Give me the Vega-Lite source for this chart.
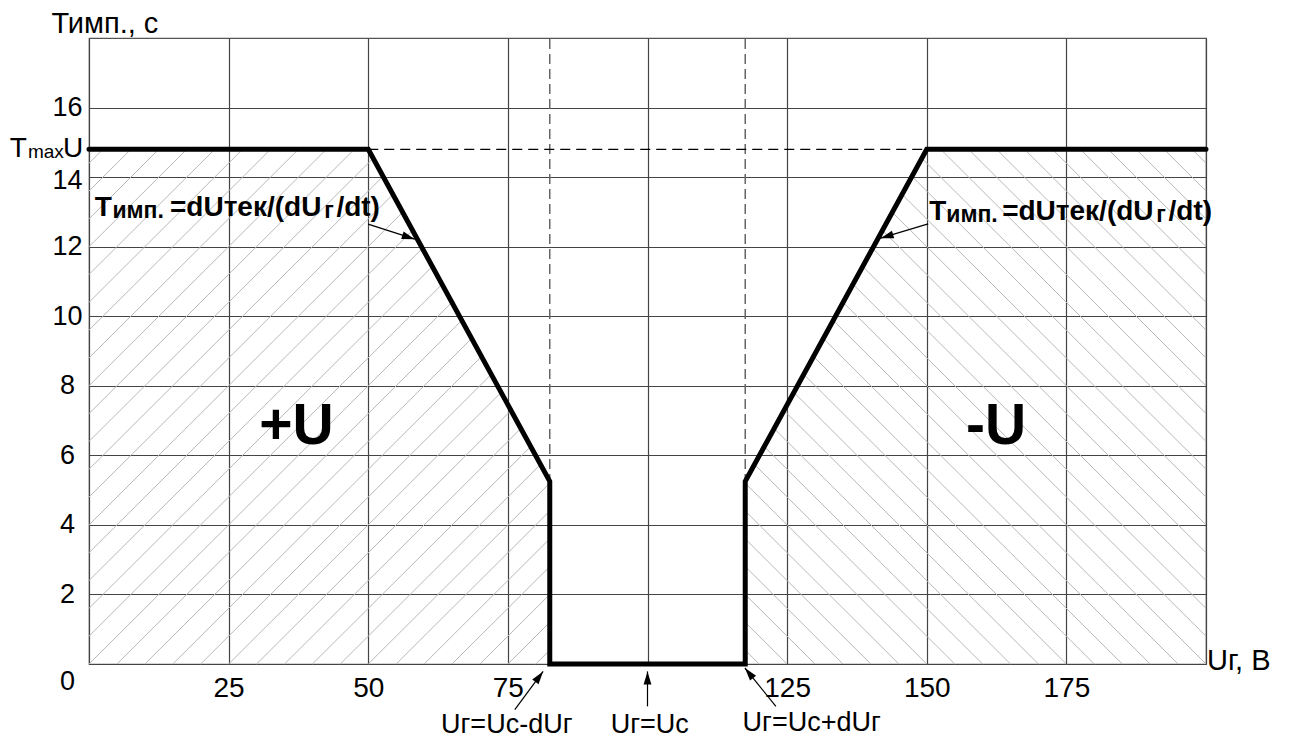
{
  "$schema": "https://vega.github.io/schema/vega-lite/v6.json",
  "autosize": {"type": "none"},
  "padding": {"left": 89, "top": 38, "right": 85, "bottom": 78},
  "width": 1117,
  "height": 626,
  "background": "white",
  "config": {
    "view": {"stroke": "#555", "strokeWidth": 1.2},
    "text": {"font": "Liberation Sans", "color": "#000"}
  },
  "datasets": {
    "curve": [
      {"i": 0, "x": 0, "y": 14.8}, {"i": 1, "x": 50, "y": 14.8}, {"i": 2, "x": 82.5, "y": 5.25}, {"i": 3, "x": 82.5, "y": 0},
      {"i": 4, "x": 117.5, "y": 0}, {"i": 5, "x": 117.5, "y": 5.25}, {"i": 6, "x": 150, "y": 14.8}, {"i": 7, "x": 200, "y": 14.8}
    ],
    "hatch": [
      {"x": 0, "y": 14.4, "x2": 2.5, "y2": 14.8}, {"x": 0, "y": 13.6, "x2": 7.5, "y2": 14.8}, {"x": 0, "y": 12.8, "x2": 12.5, "y2": 14.8},
      {"x": 0, "y": 12.0, "x2": 17.5, "y2": 14.8}, {"x": 0, "y": 11.2, "x2": 22.5, "y2": 14.8}, {"x": 0, "y": 10.4, "x2": 27.5, "y2": 14.8},
      {"x": 0, "y": 9.6, "x2": 32.5, "y2": 14.8}, {"x": 0, "y": 8.8, "x2": 37.5, "y2": 14.8}, {"x": 0, "y": 8.0, "x2": 42.5, "y2": 14.8},
      {"x": 0, "y": 7.2, "x2": 47.5, "y2": 14.8}, {"x": 0, "y": 6.4, "x2": 50.88, "y2": 14.54}, {"x": 0, "y": 5.6, "x2": 52.64, "y2": 14.02},
      {"x": 0, "y": 4.8, "x2": 54.41, "y2": 13.5}, {"x": 0, "y": 4.0, "x2": 56.17, "y2": 12.99}, {"x": 0, "y": 3.2, "x2": 57.93, "y2": 12.47},
      {"x": 0, "y": 2.4, "x2": 59.7, "y2": 11.95}, {"x": 0, "y": 1.6, "x2": 61.46, "y2": 11.43}, {"x": 0, "y": 0.8, "x2": 63.22, "y2": 10.92},
      {"x": 0, "y": 0, "x2": 64.98, "y2": 10.4}, {"x": 5, "y": 0, "x2": 66.75, "y2": 9.88}, {"x": 10, "y": 0, "x2": 68.51, "y2": 9.36},
      {"x": 15, "y": 0, "x2": 70.27, "y2": 8.84}, {"x": 20, "y": 0, "x2": 72.03, "y2": 8.33}, {"x": 25, "y": 0, "x2": 73.8, "y2": 7.81},
      {"x": 30, "y": 0, "x2": 75.56, "y2": 7.29}, {"x": 35, "y": 0, "x2": 77.32, "y2": 6.77}, {"x": 40, "y": 0, "x2": 79.08, "y2": 6.25},
      {"x": 45, "y": 0, "x2": 80.85, "y2": 5.74}, {"x": 50, "y": 0, "x2": 82.5, "y2": 5.2}, {"x": 55, "y": 0, "x2": 82.5, "y2": 4.4},
      {"x": 60, "y": 0, "x2": 82.5, "y2": 3.6}, {"x": 65, "y": 0, "x2": 82.5, "y2": 2.8}, {"x": 70, "y": 0, "x2": 82.5, "y2": 2.0},
      {"x": 75, "y": 0, "x2": 82.5, "y2": 1.2}, {"x": 80, "y": 0, "x2": 82.5, "y2": 0.4},
      {"x": 200, "y": 14.4, "x2": 197.5, "y2": 14.8}, {"x": 200, "y": 13.6, "x2": 192.5, "y2": 14.8}, {"x": 200, "y": 12.8, "x2": 187.5, "y2": 14.8},
      {"x": 200, "y": 12.0, "x2": 182.5, "y2": 14.8}, {"x": 200, "y": 11.2, "x2": 177.5, "y2": 14.8}, {"x": 200, "y": 10.4, "x2": 172.5, "y2": 14.8},
      {"x": 200, "y": 9.6, "x2": 167.5, "y2": 14.8}, {"x": 200, "y": 8.8, "x2": 162.5, "y2": 14.8}, {"x": 200, "y": 8.0, "x2": 157.5, "y2": 14.8},
      {"x": 200, "y": 7.2, "x2": 152.5, "y2": 14.8}, {"x": 200, "y": 6.4, "x2": 149.12, "y2": 14.54}, {"x": 200, "y": 5.6, "x2": 147.36, "y2": 14.02},
      {"x": 200, "y": 4.8, "x2": 145.59, "y2": 13.5}, {"x": 200, "y": 4.0, "x2": 143.83, "y2": 12.99}, {"x": 200, "y": 3.2, "x2": 142.07, "y2": 12.47},
      {"x": 200, "y": 2.4, "x2": 140.3, "y2": 11.95}, {"x": 200, "y": 1.6, "x2": 138.54, "y2": 11.43}, {"x": 200, "y": 0.8, "x2": 136.78, "y2": 10.92},
      {"x": 200, "y": 0, "x2": 135.02, "y2": 10.4}, {"x": 195, "y": 0, "x2": 133.25, "y2": 9.88}, {"x": 190, "y": 0, "x2": 131.49, "y2": 9.36},
      {"x": 185, "y": 0, "x2": 129.73, "y2": 8.84}, {"x": 180, "y": 0, "x2": 127.97, "y2": 8.33}, {"x": 175, "y": 0, "x2": 126.2, "y2": 7.81},
      {"x": 170, "y": 0, "x2": 124.44, "y2": 7.29}, {"x": 165, "y": 0, "x2": 122.68, "y2": 6.77}, {"x": 160, "y": 0, "x2": 120.92, "y2": 6.25},
      {"x": 155, "y": 0, "x2": 119.15, "y2": 5.74}, {"x": 150, "y": 0, "x2": 117.5, "y2": 5.2}, {"x": 145, "y": 0, "x2": 117.5, "y2": 4.4},
      {"x": 140, "y": 0, "x2": 117.5, "y2": 3.6}, {"x": 135, "y": 0, "x2": 117.5, "y2": 2.8}, {"x": 130, "y": 0, "x2": 117.5, "y2": 2.0},
      {"x": 125, "y": 0, "x2": 117.5, "y2": 1.2}, {"x": 120, "y": 0, "x2": 117.5, "y2": 0.4}
    ],
    "vdash": [{"x": 82.5, "y": 0, "y2": 18}, {"x": 117.5, "y": 0, "y2": 18}],
    "tmax": [{"x": 50, "x2": 150, "y": 14.8}],
    "arrows": [
      {"x": 58.33, "y": 12.216, "x2": 49.97, "y2": 12.647, "angle": 17.8},
      {"x": 141.74, "y": 12.245, "x2": 150.26, "y2": 12.656, "angle": 163.3},
      {"x": 81.31, "y": -0.213, "x2": 76.24, "y2": -1.314, "angle": -53.5},
      {"x": 100, "y": -0.213, "x2": 100, "y2": -1.218, "angle": -90},
      {"x": 117.44, "y": -0.115, "x2": 122.99, "y2": -1.218, "angle": -128.9}
    ],
    "big": [{"x": 37.15, "y": 6.33, "text": "+U"}, {"x": 162.4, "y": 6.33, "text": "-U"}],
    "formulaMain": [
      {"x": 1.02, "y": 12.886, "text": "T"}, {"x": 14.5, "y": 12.886, "text": "=dUтек/(dU"}, {"x": 44.3, "y": 12.886, "text": "/dt)"},
      {"x": 150.44, "y": 12.76, "text": "T"}, {"x": 163.5, "y": 12.76, "text": "=dUтек/(dU"}, {"x": 193.3, "y": 12.76, "text": "/dt)"}
    ],
    "formulaSub": [
      {"x": 4.2, "y": 12.83, "text": "имп."}, {"x": 42.1, "y": 12.83, "text": "г"},
      {"x": 153.5, "y": 12.70, "text": "имп."}, {"x": 191.1, "y": 12.70, "text": "г"}
    ],
    "bottomLabels": [
      {"x": 74.8, "y": -1.975, "text": "Uг=Uc-dUг"}, {"x": 100.4, "y": -1.975, "text": "Uг=Uc"}, {"x": 129.4, "y": -1.94, "text": "Uг=Uc+dUг"}
    ],
    "titles": [{"x": -6.73, "y": 18.14, "text": "Тимп., с"}, {"x": 200.2, "y": -0.16, "text": "Uг, В"}],
    "tmaxMain": [{"x": -14.2, "y": 14.59, "text": "T"}, {"x": -4.66, "y": 14.59, "text": "U"}],
    "tmaxSub": [{"x": -10.93, "y": 14.55, "text": "max"}]
  },
  "encoding": {
    "x": {
      "field": "x", "type": "quantitative",
      "scale": {"domain": [0, 200], "nice": false, "zero": false},
      "axis": {
        "title": null, "values": [0, 25, 50, 75, 100, 125, 150, 175, 200],
        "grid": true, "gridColor": "#444", "gridWidth": 1.2, "gridOpacity": 1,
        "ticks": false, "domain": false,
        "labelExpr": "datum.value == 0 || datum.value == 100 || datum.value == 200 ? '' : datum.label",
        "labelFont": "Liberation Sans", "labelFontSize": 28, "labelColor": "#000",
        "labelBaseline": "middle", "labelPadding": 24, "labelFlush": false, "labelOverlap": false
      }
    },
    "y": {
      "field": "y", "type": "quantitative",
      "scale": {"domain": [0, 18], "nice": false, "zero": false},
      "axis": {
        "title": null, "values": [0, 2, 4, 6, 8, 10, 12, 14, 16],
        "grid": true, "gridColor": "#444", "gridWidth": 1.2, "gridOpacity": 1,
        "ticks": false, "domain": false,
        "labelFont": "Liberation Sans", "labelFontSize": 27, "labelColor": "#000",
        "labelAlign": "center", "labelBaseline": "middle", "labelPadding": 22,
        "labelFlush": false, "labelOverlap": false,
        "labelOffset": {"condition": [{"test": "datum.value == 0", "value": 17}, {"test": "datum.value == 14", "value": 3}], "value": 0}
      }
    }
  },
  "layer": [
    {"data": {"name": "hatch"}, "mark": {"type": "rule", "color": "#b8b8b8", "strokeWidth": 1}, "encoding": {"x2": {"field": "x2"}, "y2": {"field": "y2"}}},
    {"data": {"name": "vdash"}, "mark": {"type": "rule", "color": "#666", "strokeWidth": 1.5, "strokeDash": [10, 5]}, "encoding": {"y2": {"field": "y2"}}},
    {"data": {"name": "tmax"}, "mark": {"type": "rule", "color": "#000", "strokeWidth": 1.2, "strokeDash": [10, 6]}, "encoding": {"x2": {"field": "x2"}}},
    {"data": {"name": "curve"}, "mark": {"type": "line", "color": "#000", "strokeWidth": 5, "strokeJoin": "miter", "strokeCap": "round"}, "encoding": {"order": {"field": "i", "type": "quantitative"}}},
    {"data": {"name": "arrows"}, "mark": {"type": "rule", "color": "#000", "strokeWidth": 1.2}, "encoding": {"x2": {"field": "x2"}, "y2": {"field": "y2"}}},
    {"data": {"name": "arrows"}, "mark": {"type": "point", "shape": "M0,0L-1,-0.3L-1,0.3Z", "size": 676, "filled": true, "color": "#000", "opacity": 1, "strokeWidth": 0}, "encoding": {"angle": {"field": "angle", "type": "quantitative", "scale": null}}},
    {"data": {"name": "big"}, "mark": {"type": "text", "fontSize": 57, "fontWeight": "bold", "align": "center", "baseline": "alphabetic"}, "encoding": {"text": {"field": "text"}}},
    {"data": {"name": "formulaMain"}, "mark": {"type": "text", "fontSize": 28, "fontWeight": "bold", "align": "left", "baseline": "alphabetic"}, "encoding": {"text": {"field": "text"}}},
    {"data": {"name": "formulaSub"}, "mark": {"type": "text", "fontSize": 23, "fontWeight": "bold", "align": "left", "baseline": "alphabetic"}, "encoding": {"text": {"field": "text"}}},
    {"data": {"name": "bottomLabels"}, "mark": {"type": "text", "fontSize": 27, "align": "center", "baseline": "alphabetic"}, "encoding": {"text": {"field": "text"}}},
    {"data": {"name": "titles"}, "mark": {"type": "text", "fontSize": 29, "align": "left", "baseline": "alphabetic"}, "encoding": {"text": {"field": "text"}}},
    {"data": {"name": "tmaxMain"}, "mark": {"type": "text", "fontSize": 28, "align": "left", "baseline": "alphabetic"}, "encoding": {"text": {"field": "text"}}},
    {"data": {"name": "tmaxSub"}, "mark": {"type": "text", "fontSize": 19, "align": "left", "baseline": "alphabetic"}, "encoding": {"text": {"field": "text"}}}
  ]
}
